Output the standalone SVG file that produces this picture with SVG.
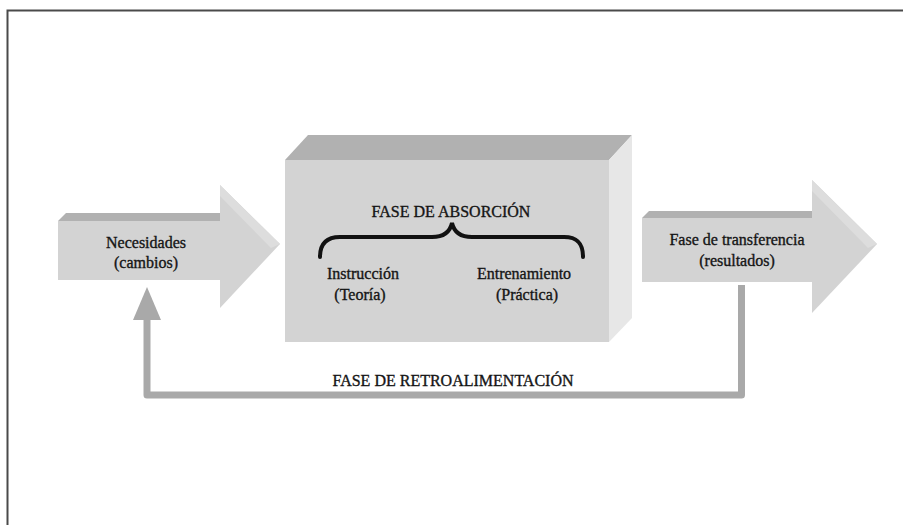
<svg xmlns="http://www.w3.org/2000/svg" width="905" height="525" viewBox="0 0 905 525">
  <style>
    .lbl { font-family: "Liberation Serif", "Times New Roman", serif; font-size: 16px; fill: #151515; stroke: #151515; stroke-width: 0.35; text-anchor: middle; }
    .front { fill: #d3d3d3; }
    .top { fill: #b1b1b1; }
    .side { fill: #e7e7e7; }
    .shine { fill: #dddddd; }
    .loop { fill: none; stroke: #a9a9a9; stroke-width: 7; stroke-linejoin: round; }
    .head { fill: #a9a9a9; }
  </style>

  <rect width="905" height="525" fill="#ffffff"/>

  <!-- page frame -->
  <path d="M7.5,525 V10.5 H903" fill="none" stroke="#4a4a4a" stroke-width="2"/>

  <!-- connectors -->
  <g id="connectors">
    <path class="loop" d="M741.5,285 V395 H147 V318"/>
    <path class="head" d="M147,287 L161,320 L133,320 Z"/>
  </g>

  <!-- input arrow -->
  <g id="necesidades">
    <polygon class="top" points="58,221 66,213 221,213 221,221"/>
    <rect class="front" x="58" y="221" width="163" height="59"/>
    <polygon class="front" points="220,185 280,244 220,308"/>
    <polygon class="shine" points="220,185 280,244 271,248 220,196"/>
    <text class="lbl" x="146" y="248">Necesidades</text>
    <text class="lbl" x="146" y="268">(cambios)</text>
  </g>

  <!-- central block -->
  <g id="absorcion">
    <polygon class="top" points="285,160 308,135 632,135 609,160"/>
    <polygon class="side" points="609,160 632,135 632,318 609,342"/>
    <rect class="front" x="285" y="160" width="324" height="182"/>
    <text class="lbl" x="451" y="217">FASE DE ABSORCIÓN</text>
    <path d="M320,257 C320,244 326,237 340,237 L432,237 C444,237 450,232 452,223 C454,232 460,237 472,237 L564,237 C578,237 583,244 583,257" fill="none" stroke="#111" stroke-width="4" stroke-linecap="round"/>
    <text class="lbl" x="363" y="279">Instrucción</text>
    <text class="lbl" x="360" y="300">(Teoría)</text>
    <text class="lbl" x="524" y="279">Entrenamiento</text>
    <text class="lbl" x="527" y="300">(Práctica)</text>
  </g>

  <!-- output arrow -->
  <g id="transferencia">
    <polygon class="top" points="642,218 649,211 813,211 813,218"/>
    <rect class="front" x="642" y="218" width="171" height="64"/>
    <polygon class="front" points="812,180 877,244 812,313"/>
    <polygon class="shine" points="812,180 877,244 868,248 812,191"/>
    <text class="lbl" x="737" y="245">Fase de transferencia</text>
    <text class="lbl" x="737" y="266">(resultados)</text>
  </g>

  <!-- feedback label -->
  <g id="retroalimentacion">
    <text class="lbl" x="453" y="386">FASE DE RETROALIMENTACIÓN</text>
  </g>
</svg>
